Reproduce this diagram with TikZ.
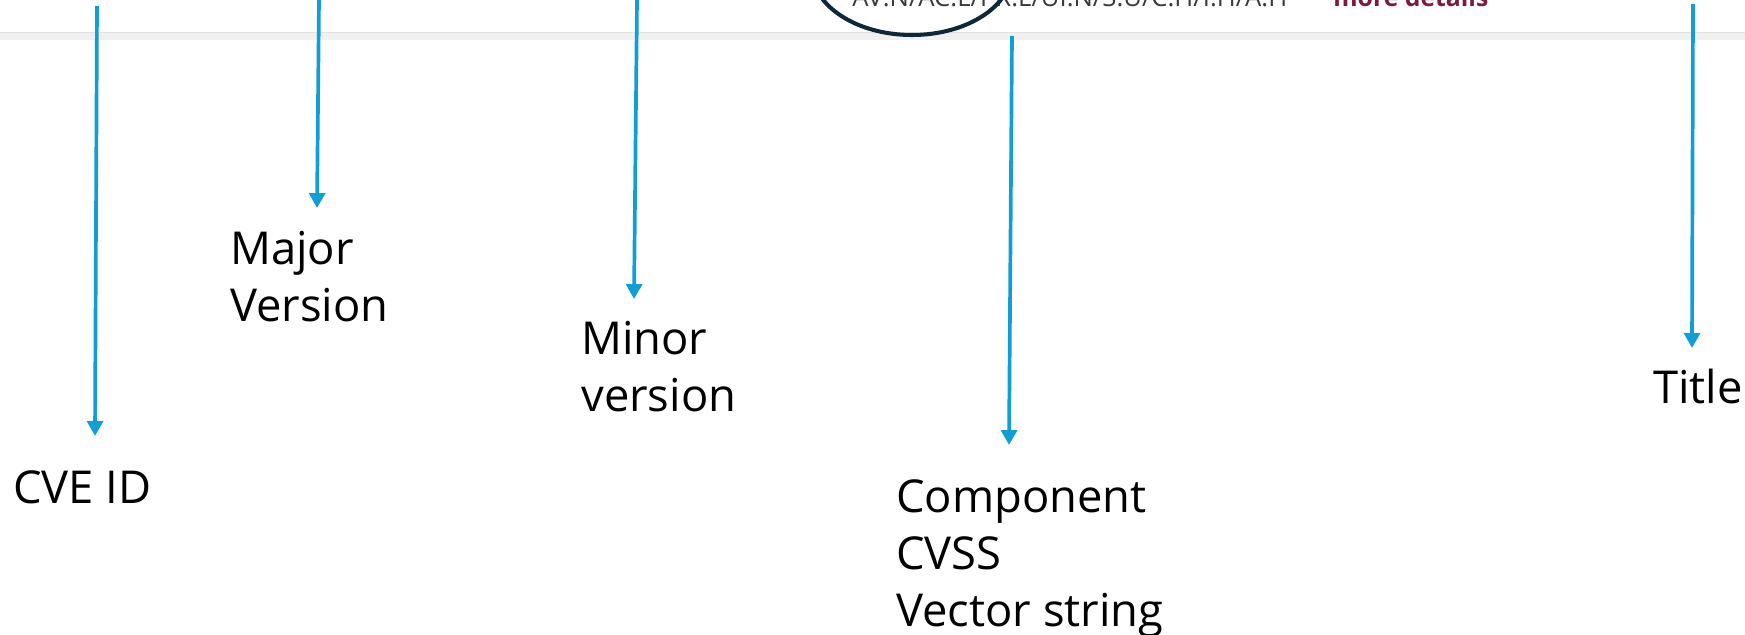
\documentclass[tikz,border=0pt]{standalone}
\usepackage{fontspec}
\setmainfont{Open Sans}
\usetikzlibrary{arrows.meta}

\definecolor{arrowblue}{HTML}{0F9ED5}
\definecolor{ringnavy}{HTML}{0E2838}
\definecolor{bandgray}{HTML}{F0F0F0}
\definecolor{bandline}{HTML}{E3E3E3}
\definecolor{vecgray}{HTML}{3A3A3A}
\definecolor{linkred}{HTML}{7B1C3E}

\tikzset{
  arr/.style={arrowblue, line width=2.1pt, -{Triangle[width=9pt,length=8.5pt]}},
  lbl/.style={anchor=north west, inner sep=0pt, align=left,
    font=\fontsize{25.8}{32.4}\selectfont},
  snip/.style={anchor=base west, inner sep=0pt},
}

\begin{document}
\begin{tikzpicture}[x=0.02cm,y=-0.02cm]
  \useasboundingbox (0,0) rectangle (1745,635);
  \clip (0,0) rectangle (1745,635);
  % cut-off page strip at the top
  \fill[bandgray] (0,32) rectangle (1745,40);
  \draw[bandline, line width=1pt] (0,32.5) -- (1745,32.5);
  \node[snip, text=vecgray] (vector) at (852,7)
    {\resizebox{8.7cm}{!}{AV:N/AC:L/PR:L/UI:N/S:U/C:H/I:H/A:H}};
  \node[snip, text=linkred] (details) at (1333,7)
    {\resizebox{3.1cm}{!}{\bfseries more details}};
  \draw[ringnavy, line width=2.3pt] (912,-30) ellipse [x radius=100, y radius=65];

  % labels
  \node[lbl] (cve)   at (13,470)  {CVE ID};
  \node[lbl] (major) at (230,231) {Major\\Version};
  \node[lbl] (minor) at (581,321) {Minor\\version};
  \node[lbl] (comp)  at (896,479) {Component\\CVSS\\Vector string};
  \node[lbl] (title) at (1653,369) {Title};

  % arrows
  \coordinate (cve-top)   at (97,6);     \coordinate (cve-tip)   at (95,436);
  \coordinate (major-top) at (319,0);    \coordinate (major-tip) at (317,208);
  \coordinate (minor-top) at (637,0);    \coordinate (minor-tip) at (634,299);
  \coordinate (comp-top)  at (1012,36);  \coordinate (comp-tip)  at (1009,445);
  \coordinate (title-top) at (1693,4);   \coordinate (title-tip) at (1692,348);
  \foreach \n in {cve,major,minor,comp,title}
    \draw[arr] (\n-top) -- (\n-tip);
\end{tikzpicture}
\end{document}
